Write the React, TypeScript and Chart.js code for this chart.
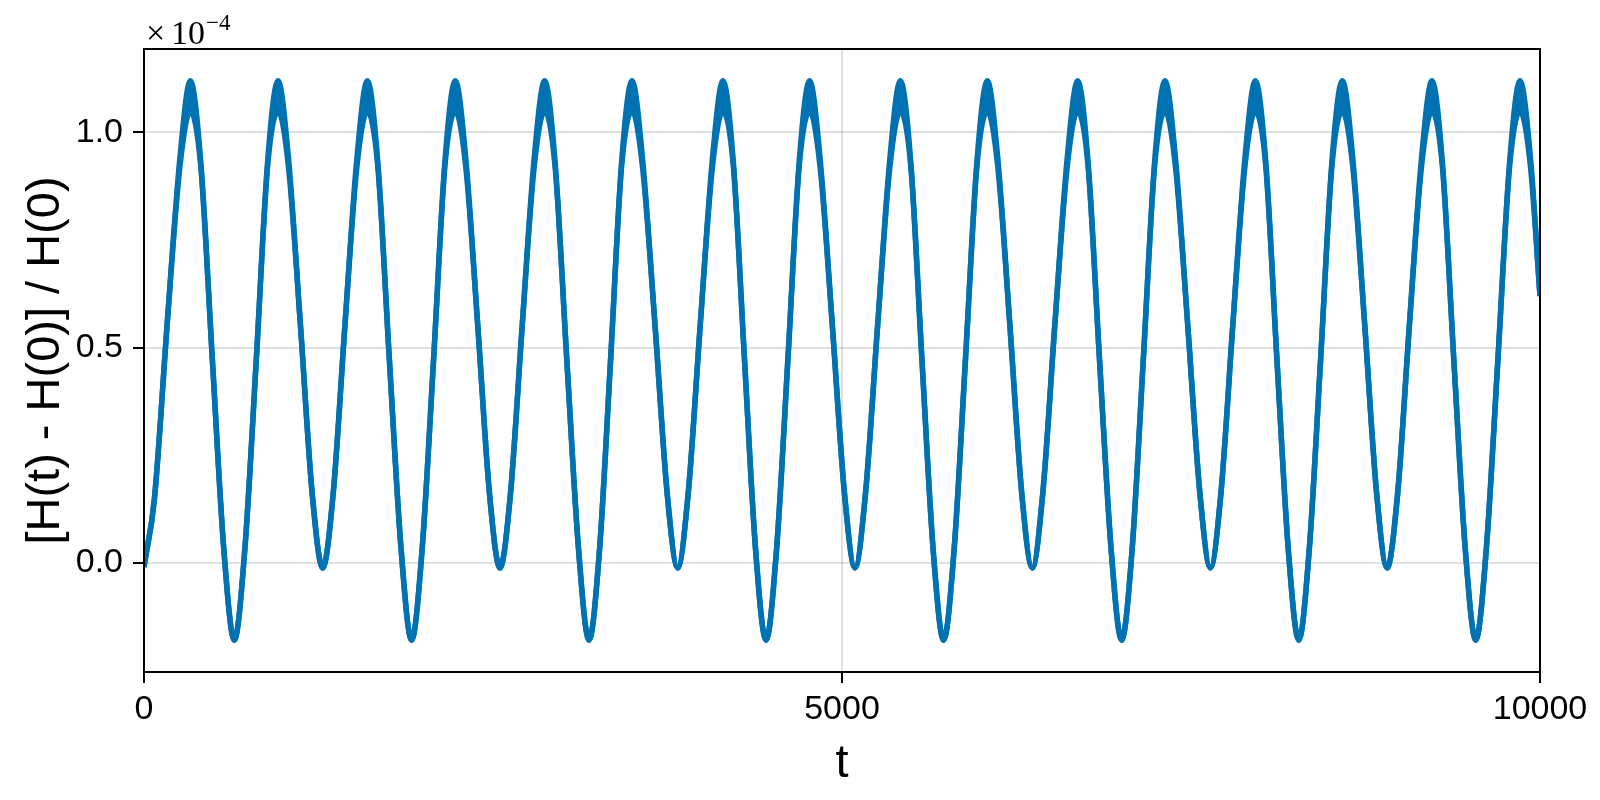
import React, { useEffect, useRef } from 'react';
import { Chart, registerables } from 'chart.js';

Chart.register(...registerables);

// t values: trough, shoulder, mid level, shoulder, peak ...
const timePoints = [
  0,
  75, 166, 257, 332,
  407, 490, 572, 647,
  722, 804, 885, 960,
  1035, 1120, 1205, 1280,
  1355, 1440, 1525, 1600,
  1675, 1758, 1842, 1917,
  1992, 2074, 2155, 2230,
  2305, 2390, 2475, 2550,
  2625, 2710, 2795, 2870,
  2945, 3029, 3113, 3188,
  3263, 3342, 3421, 3496,
  3571, 3660, 3748, 3823,
  3898, 3985, 4072, 4147,
  4222, 4302, 4381, 4456,
  4531, 4612, 4693, 4768,
  4843, 4930, 5018, 5093,
  5168, 5256, 5343, 5418,
  5493, 5573, 5653, 5728,
  5803, 5884, 5966, 6041,
  6116, 6202, 6288, 6363,
  6438, 6525, 6613, 6688,
  6763, 6845, 6928, 7003,
  7078, 7158, 7239, 7314,
  7389, 7476, 7564, 7639,
  7714, 7800, 7886, 7961,
  8036, 8116, 8197, 8272,
  8347, 8428, 8509, 8584,
  8659, 8744, 8830, 8905,
  8980, 9065, 9151, 9226,
  9301, 9383, 9465, 9540,
  9615, 9698, 9782, 9857,
  9932, 10000,
];

// upper edge of the band (x 1e-4)
const upperEdge = [
  -0.01,
  0.15, 0.555, 0.94, 1.12,
  0.93, 0.47, 0.03, -0.18,
  0.03, 0.47, 0.93, 1.12,
  0.94, 0.555, 0.16, -0.012,
  0.16, 0.555, 0.94, 1.12,
  0.93, 0.47, 0.03, -0.18,
  0.03, 0.47, 0.93, 1.12,
  0.94, 0.555, 0.16, -0.012,
  0.16, 0.555, 0.94, 1.12,
  0.93, 0.47, 0.03, -0.18,
  0.03, 0.47, 0.93, 1.12,
  0.94, 0.555, 0.16, -0.012,
  0.16, 0.555, 0.94, 1.12,
  0.93, 0.47, 0.03, -0.18,
  0.03, 0.47, 0.93, 1.12,
  0.94, 0.555, 0.16, -0.012,
  0.16, 0.555, 0.94, 1.12,
  0.93, 0.47, 0.03, -0.18,
  0.03, 0.47, 0.93, 1.12,
  0.94, 0.555, 0.16, -0.012,
  0.16, 0.555, 0.94, 1.12,
  0.93, 0.47, 0.03, -0.18,
  0.03, 0.47, 0.93, 1.12,
  0.94, 0.555, 0.16, -0.012,
  0.16, 0.555, 0.94, 1.12,
  0.93, 0.47, 0.03, -0.18,
  0.03, 0.47, 0.93, 1.12,
  0.94, 0.555, 0.16, -0.012,
  0.16, 0.555, 0.94, 1.12,
  0.93, 0.47, 0.03, -0.18,
  0.03, 0.47, 0.93, 1.12,
  0.94, 0.62,
];

// lower edge of the band (x 1e-4): same path, lower tips at the peaks
const lowerEdge = [
  -0.01,
  0.15, 0.555, 0.92, 1.05,
  0.92, 0.47, 0.03, -0.18,
  0.03, 0.47, 0.92, 1.05,
  0.92, 0.555, 0.16, -0.012,
  0.16, 0.555, 0.92, 1.05,
  0.92, 0.47, 0.03, -0.18,
  0.03, 0.47, 0.92, 1.05,
  0.92, 0.555, 0.16, -0.012,
  0.16, 0.555, 0.92, 1.05,
  0.92, 0.47, 0.03, -0.18,
  0.03, 0.47, 0.92, 1.05,
  0.92, 0.555, 0.16, -0.012,
  0.16, 0.555, 0.92, 1.05,
  0.92, 0.47, 0.03, -0.18,
  0.03, 0.47, 0.92, 1.05,
  0.92, 0.555, 0.16, -0.012,
  0.16, 0.555, 0.92, 1.05,
  0.92, 0.47, 0.03, -0.18,
  0.03, 0.47, 0.92, 1.05,
  0.92, 0.555, 0.16, -0.012,
  0.16, 0.555, 0.92, 1.05,
  0.92, 0.47, 0.03, -0.18,
  0.03, 0.47, 0.92, 1.05,
  0.92, 0.555, 0.16, -0.012,
  0.16, 0.555, 0.92, 1.05,
  0.92, 0.47, 0.03, -0.18,
  0.03, 0.47, 0.92, 1.05,
  0.92, 0.555, 0.16, -0.012,
  0.16, 0.555, 0.92, 1.05,
  0.92, 0.47, 0.03, -0.18,
  0.03, 0.47, 0.92, 1.05,
  0.92, 0.62,
];

const xTicks = [0, 5000, 10000];
const yTicks = [0, 0.5, 1.0];

const BLUE = '#0072b2';
const SANS = '"Liberation Sans", Arial, sans-serif';
const SERIF = '"Liberation Serif", "DejaVu Serif", serif';

// draws the top/right spines and the x10^-4 factor
const framePlugin = {
  id: 'frame',
  afterDraw(chart: any) {
    const { ctx, chartArea } = chart;
    const { left, top, right, bottom } = chartArea;
    ctx.save();
    ctx.strokeStyle = '#000';
    ctx.lineWidth = 2;
    ctx.strokeRect(left, top, right - left, bottom - top);

    ctx.fillStyle = '#000';
    ctx.textBaseline = 'alphabetic';
    ctx.font = `34px ${SERIF}`;
    ctx.textAlign = 'left';
    ctx.fillText('×', left + 2, top - 5);
    ctx.textAlign = 'right';
    ctx.fillText('10', left + 61, top - 5);
    ctx.textAlign = 'left';
    ctx.font = `23px ${SERIF}`;
    ctx.fillText('−4', left + 62, top - 19);
    ctx.restore();
  },
};

export default function App() {
  const canvasRef = useRef<HTMLCanvasElement | null>(null);

  useEffect(() => {
    document.body.style.margin = '0';
    const canvas = canvasRef.current;
    if (!canvas) return;

    const upper = timePoints.map((t, i) => ({ x: t, y: upperEdge[i] }));
    const lower = timePoints.map((t, i) => ({ x: t, y: lowerEdge[i] }));

    const gridOpts = {
      color: 'rgba(0,0,0,0.12)',
      lineWidth: 2,
      tickColor: '#000',
      tickWidth: 2,
      tickLength: 11,
    };

    const chart = new Chart(canvas, {
      type: 'line',
      data: {
        datasets: [
          {
            data: upper,
            borderColor: BLUE,
            borderWidth: 5.5,
            pointRadius: 0,
            fill: false,
            cubicInterpolationMode: 'monotone',
          },
          {
            data: lower,
            borderColor: BLUE,
            backgroundColor: BLUE,
            borderWidth: 5.5,
            pointRadius: 0,
            fill: '-1',
            cubicInterpolationMode: 'monotone',
          },
        ],
      },
      options: {
        animation: false,
        responsive: false,
        devicePixelRatio: 1,
        layout: { padding: { top: 49, right: 60, left: 0, bottom: 0 } },
        plugins: {
          legend: { display: false },
          tooltip: { enabled: false },
        },
        scales: {
          x: {
            type: 'linear',
            min: 0,
            max: 10000,
            afterBuildTicks: (s: any) => {
              s.ticks = xTicks.map((v) => ({ value: v }));
            },
            afterFit: (s: any) => {
              s.height = 128;
            },
            ticks: {
              callback: (v: any) => String(v),
              font: { family: SANS, size: 34 },
              color: '#000',
              padding: 6,
              maxRotation: 0,
              autoSkip: false,
            },
            grid: gridOpts,
            border: { color: '#000', width: 2 },
            title: {
              display: true,
              text: 't',
              color: '#000',
              font: { family: SANS, size: 47 },
              padding: { top: 0, bottom: 8 },
            },
          },
          y: {
            type: 'linear',
            min: -0.254,
            max: 1.194,
            afterBuildTicks: (s: any) => {
              s.ticks = yTicks.map((v) => ({ value: v }));
            },
            afterFit: (s: any) => {
              s.width = 144;
            },
            ticks: {
              callback: (v: any) => Number(v).toFixed(1),
              font: { family: SANS, size: 34 },
              color: '#000',
              padding: 10,
            },
            grid: gridOpts,
            border: { color: '#000', width: 2 },
            title: {
              display: true,
              text: '[H(t) - H(0)] / H(0)',
              color: '#000',
              font: { family: SANS, size: 47 },
              padding: { top: 18, bottom: 0 },
            },
          },
        },
      },
      plugins: [framePlugin],
    });

    return () => {
      chart.destroy();
    };
  }, []);

  return (
    <div style={{ width: 1600, height: 800, background: '#fff' }}>
      <canvas ref={canvasRef} width={1600} height={800}></canvas>
    </div>
  );
}
